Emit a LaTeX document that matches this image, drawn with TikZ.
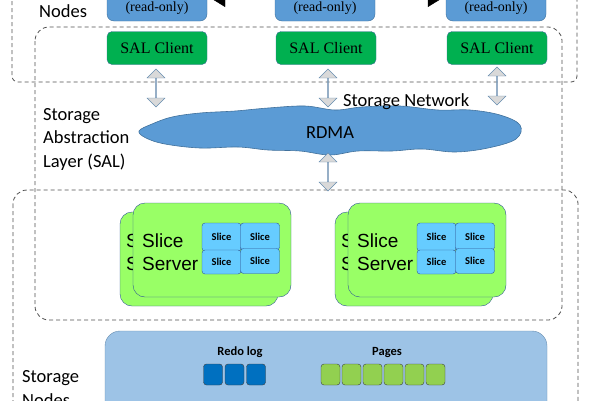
\documentclass[tikz,border=0pt]{standalone}
\usepackage{fontspec}
\setmainfont{Carlito}
\newfontfamily\serfont{Liberation Serif}
\newfontfamily\arialfont{Liberation Sans}
\usetikzlibrary{arrows.meta,shapes.arrows,positioning}
\definecolor{cnblue}{HTML}{5B9BD5}
\definecolor{edgeblue}{HTML}{41719C}
\definecolor{salgreen}{HTML}{00B050}
\definecolor{cardgreen}{HTML}{99FF66}
\definecolor{carddraw}{HTML}{2F5597}
\definecolor{slicecell}{HTML}{66CCFF}
\definecolor{storefill}{HTML}{9DC3E6}
\definecolor{redocol}{HTML}{0070C0}
\definecolor{pagecol}{HTML}{92D050}
\definecolor{dashgray}{HTML}{505050}
\begin{document}
\begin{tikzpicture}[x=1pt,y=-1pt,
  region/.style={draw=dashgray,line width=0.8pt,dash pattern=on 4pt off 3pt,rounded corners=14pt},
  lbl/.style={font=\fontsize{18.5}{23.5}\selectfont,align=left,inner sep=0pt},
  cnode/.style={draw=edgeblue,fill=cnblue,rounded corners=7pt,minimum width=100,minimum height=50,inner sep=0pt},
  salbox/.style={draw=edgeblue,fill=salgreen,rounded corners=5pt,minimum width=100,minimum height=33,font=\serfont\fontsize{16}{18}\selectfont},
  dblarr/.style={double arrow,draw=edgeblue!80,fill=black!15,rotate=90,minimum height=38,minimum width=18,double arrow head extend=5,inner sep=0pt},
  card/.style={draw=carddraw,fill=cardgreen,rounded corners=12pt,minimum width=158,minimum height=94},
  cardtext/.style={font=\arialfont\fontsize{19}{23}\selectfont,align=left,inner sep=0pt,anchor=base west},
  slice/.style={draw=carddraw,fill=slicecell,rounded corners=3pt,minimum width=39,inner sep=0pt,font=\bfseries\fontsize{10.5}{12}\selectfont},
  cell/.style={draw=black!75,rounded corners=3pt,minimum width=19,minimum height=21,inner sep=0pt}]
\useasboundingbox (0,0) rectangle (600,400);
\clip (0,0) rectangle (600,400);
% dashed layers
\draw[region,rounded corners=6pt] (12,-40) rectangle (577,82);
\draw[region] (35,27) rectangle (562,320);
\draw[region] (13,190) rectangle (578,460);
% compute nodes
\node[cnode] (cn1) at (157,-4) {};
\node[cnode] (cn2) at (325,-4) {};
\node[cnode] (cn3) at (496,-4) {};
\foreach \i in {1,2,3} \node[font=\serfont\fontsize{14}{16}\selectfont,above=3pt] at (cn\i.south) {(read-only)};
\draw[-{Triangle[length=18pt,width=22pt]}] (cn2.west) -- (cn1.east);
\draw[-{Triangle[length=18pt,width=22pt]}] (cn2.east) -- (cn3.west);
\node[lbl,anchor=base west] (lcn) at (39,17) {Nodes};
% SAL
\node[salbox] (sal1) at (157,48) {SAL Client};
\node[salbox] (sal2) at (326,48) {SAL Client};
\node[salbox] (sal3) at (497,48) {SAL Client};
\draw[draw=edgeblue,fill=cnblue,line width=0.6pt] plot[smooth cycle,tension=0.6] coordinates {
  (139,131) (152,124) (172,117) (200,113) (235,111) (268,108) (305,106) (335,110)
  (362,107) (400,106) (438,110) (470,110) (500,115) (520,125) (516,139) (488,148)
  (455,152) (422,149) (392,151) (358,151) (330,155) (300,151) (268,150) (238,147)
  (200,148) (165,144) (146,138)};
\node[font=\fontsize{18.5}{20}\selectfont] (rdma) at (330,133) {RDMA};
\node[dblarr] (a1) at (156,88) {};
\node[dblarr] (a2) at (328,88) {};
\node[dblarr] (a3) at (497,86) {};
\node[dblarr] (a4) at (328,172) {};
\node[lbl,anchor=base west] (lnet) at (343,106) {Storage Network};
\node[lbl,anchor=base west] (lsal) at (43,167) {Storage\\Abstraction\\Layer (SAL)};
% slice servers
\foreach \g/\dx in {1/0,2/215} {
  \node[card] (back\g) at (199+\dx,259) {};
  \node[cardtext] at (126+\dx,270) {Slice\\Server};
  \node[card] (ss\g) at (212+\dx,250) {};
  \node[cardtext] (sst\g) at (142+\dx,270) {Slice\\Server};
  \node[slice,minimum height=28] (s\g a) at (221.5+\dx,237) {Slice};
  \node[slice,minimum height=27] (s\g b) at (260+\dx,236.5) {Slice};
  \node[slice,minimum height=24] (s\g c) at (221.5+\dx,262) {Slice};
  \node[slice,minimum height=25] (s\g d) at (260+\dx,261) {Slice};
}
% storage nodes
\node[draw=edgeblue!80,fill=storefill,rounded corners=15pt,minimum width=442,minimum height=120] (store) at (326,391) {};
\node[font=\bfseries\fontsize{12.5}{14}\selectfont,anchor=base] (redo) at (240,355) {Redo log};
\node[font=\bfseries\fontsize{12.5}{14}\selectfont,anchor=base] (pages) at (387,355) {Pages};
\foreach \i in {0,1,2} \node[cell,fill=redocol] (r\i) at (213+21.5*\i,374.5) {};
\foreach \i in {0,...,5} \node[cell,fill=pagecol] (p\i) at (330.5+21*\i,374.5) {};
\node[lbl,anchor=base west] (lsn) at (22,406) {Storage\\Nodes};
\end{tikzpicture}
\end{document}
